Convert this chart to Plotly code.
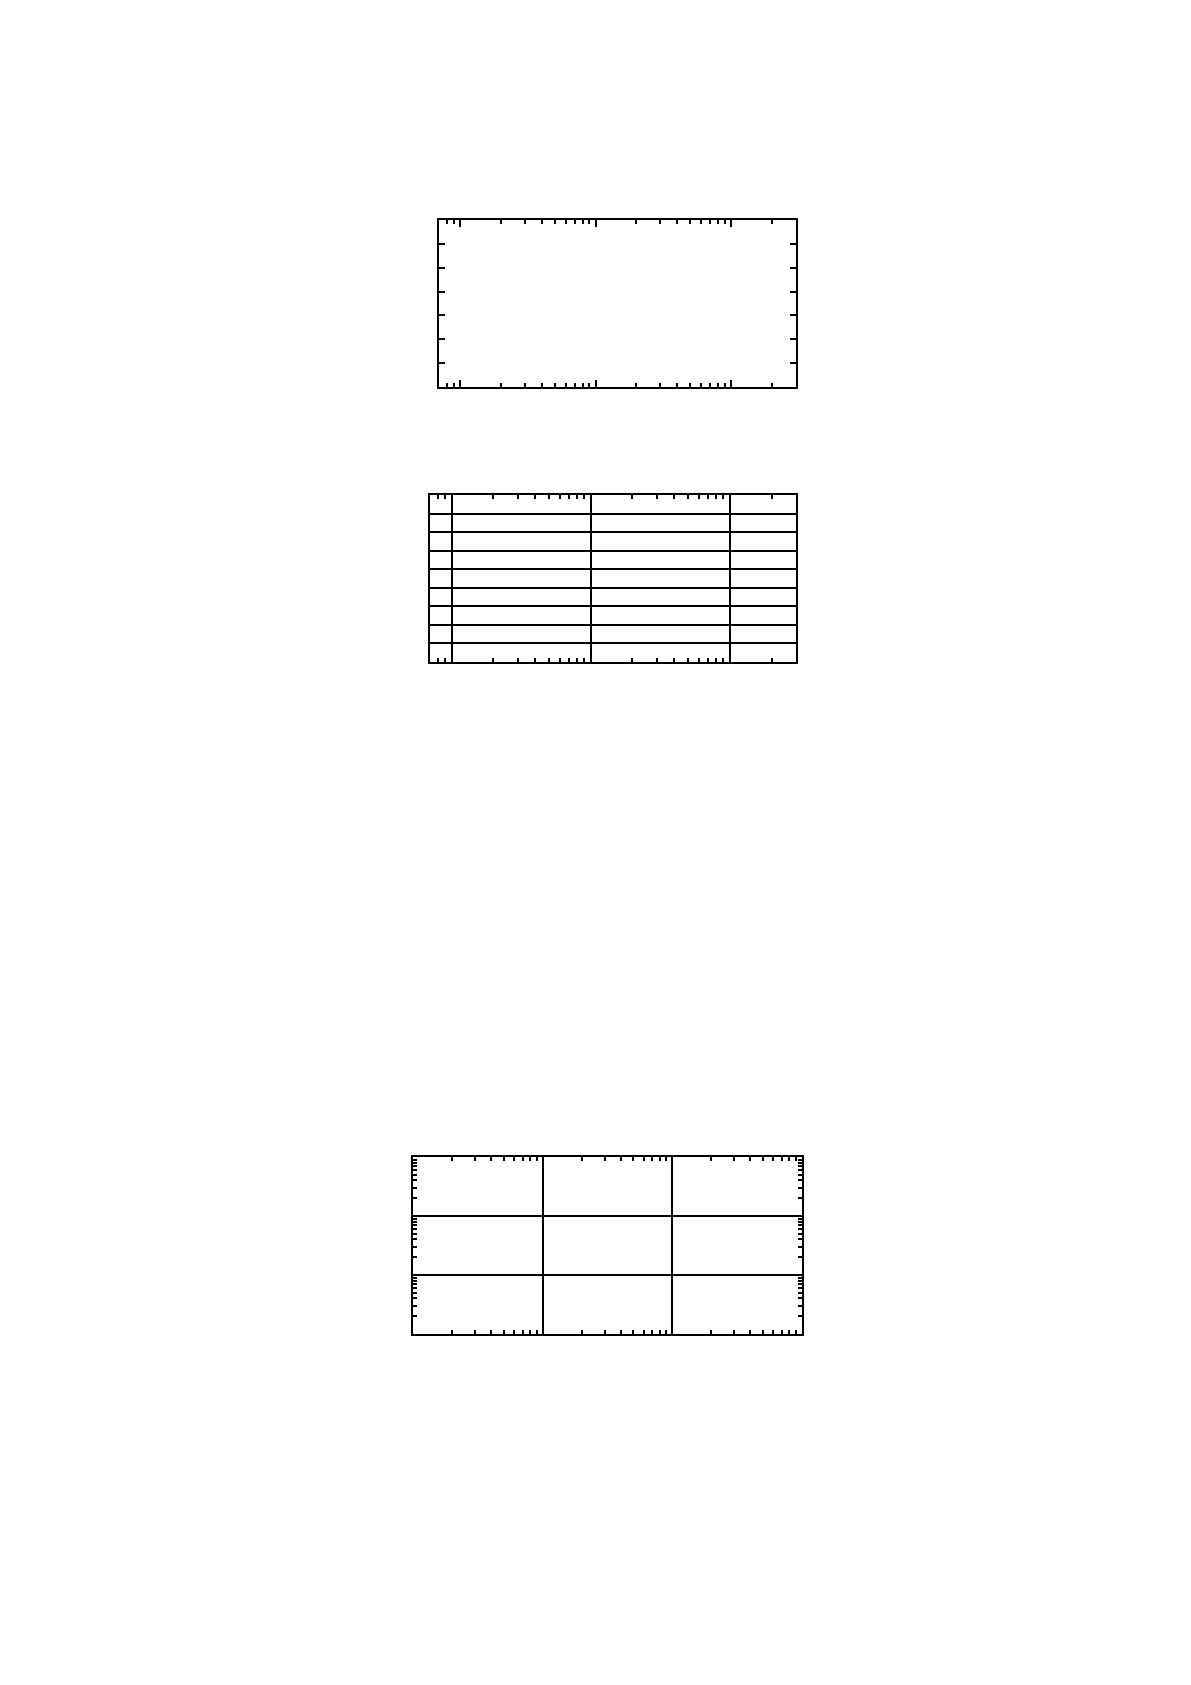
import math
import plotly.graph_objects as go

# axis extents and tick positions (the panels hold no marks)
top_x_range = [0.7, 300]
top_y_range = [0, 7]
mid_x_range = [0.7, 300]
mid_y_range = [0, 9]
bot_x_range = [1, 1000]
bot_y_range = [1, 1000]

major_a = [1, 10, 100]
minor_a = [0.8, 0.9, 2, 3, 4, 5, 6, 7, 8, 9, 20, 30, 40, 50, 60, 70, 80, 90, 200]
major_b = [1, 10, 100, 1000]
minor_b = [2, 3, 4, 5, 6, 7, 8, 9, 20, 30, 40, 50, 60, 70, 80, 90,
           200, 300, 400, 500, 600, 700, 800, 900]

W, H = 1191, 1685
PAGE = 8  # default body margin of the written html page


def dom_x(a, b):
    return [(a - PAGE) / W, (b - PAGE) / W]


def dom_y(top, bottom):
    return [1 - (bottom - PAGE) / H, 1 - (top - PAGE) / H]


def frame(**kw):
    d = dict(showline=True, linecolor='black', linewidth=2, mirror='ticks',
             showticklabels=False, zeroline=False, showgrid=False,
             ticks='inside', tickcolor='black', tickwidth=2)
    d.update(kw)
    return d


def log_range(r):
    return [math.log10(r[0]), math.log10(r[1])]


fig = go.Figure()
for i in range(1, 4):
    fig.add_trace(go.Scatter(x=[], y=[], xaxis='x' if i == 1 else 'x%d' % i,
                             yaxis='y' if i == 1 else 'y%d' % i,
                             showlegend=False, hoverinfo='skip'))

fig.update_layout(
    width=W, height=H,
    margin=dict(l=0, r=0, t=0, b=0),
    paper_bgcolor='white', plot_bgcolor='white',
    showlegend=False,
    # top panel: log x, linear y, ticks only
    xaxis=frame(type='log', range=log_range(top_x_range), domain=dom_x(439, 796),
                anchor='y', tickmode='array', tickvals=major_a, ticklen=7,
                minor=dict(tickmode='array', tickvals=minor_a, ticks='inside',
                           ticklen=4, tickwidth=2, tickcolor='black')),
    yaxis=frame(range=top_y_range, domain=dom_y(220, 387), anchor='x',
                dtick=1, ticklen=6),
    # middle panel: log x with decade grid, 9 row grid
    xaxis2=frame(type='log', range=log_range(mid_x_range), domain=dom_x(430, 796),
                 anchor='y2', tickmode='array', tickvals=major_a, ticklen=4,
                 showgrid=True, gridcolor='black', gridwidth=2,
                 minor=dict(tickmode='array', tickvals=minor_a, ticks='inside',
                            ticklen=4, tickwidth=2, tickcolor='black')),
    yaxis2=frame(range=mid_y_range, domain=dom_y(495, 662), anchor='x2',
                 dtick=1, ticks='', showgrid=True, gridcolor='black', gridwidth=1.5),
    # bottom panel: log-log with decade grid
    xaxis3=frame(type='log', range=log_range(bot_x_range), domain=dom_x(413, 802),
                 anchor='y3', tickmode='array', tickvals=major_b, ticklen=4,
                 showgrid=True, gridcolor='black', gridwidth=2,
                 minor=dict(tickmode='array', tickvals=minor_b, ticks='inside',
                            ticklen=4, tickwidth=2, tickcolor='black')),
    yaxis3=frame(type='log', range=log_range(bot_y_range), domain=dom_y(1157, 1334),
                 anchor='x3', tickmode='array', tickvals=major_b, ticklen=4,
                 showgrid=True, gridcolor='black', gridwidth=2,
                 minor=dict(tickmode='array', tickvals=minor_b, ticks='inside',
                            ticklen=4, tickwidth=2, tickcolor='black')),
)

fig.write_html("out.html")
